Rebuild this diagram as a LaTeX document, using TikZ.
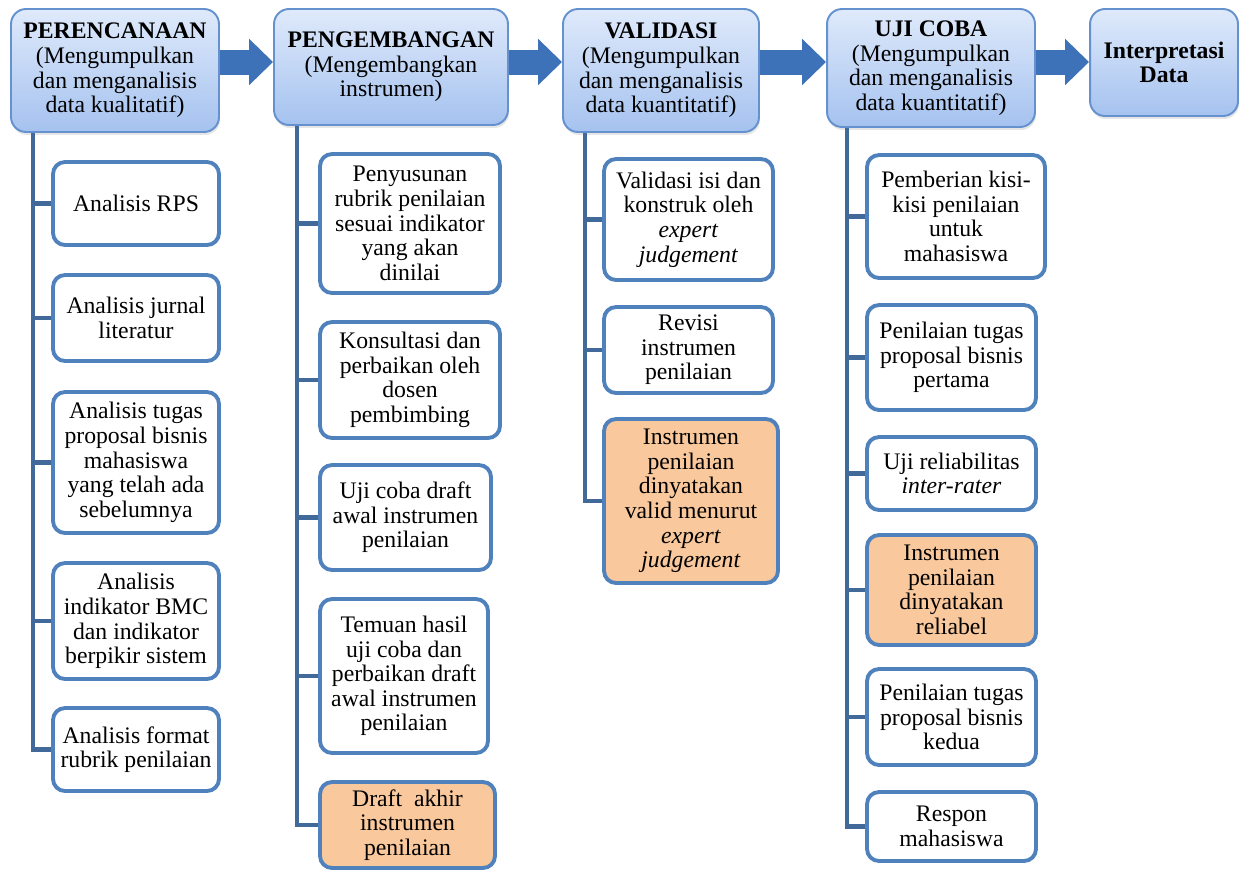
\documentclass[tikz,border=0pt]{standalone}
\usepackage{fontspec}
\setmainfont{Liberation Serif}
\usepackage{tikz}
\usetikzlibrary{arrows.meta, positioning, shadows}

\definecolor{headtop}{HTML}{DFEAFB}
\definecolor{headbot}{HTML}{A5C2EF}
\definecolor{headline}{HTML}{6691CF}
\definecolor{boxline}{HTML}{4F81BD}
\definecolor{trunkcol}{HTML}{41699A}
\definecolor{flowcol}{HTML}{3D72B8}
\definecolor{resfill}{HTML}{F9C89C}

\begin{document}
\begin{tikzpicture}[x=0.02cm, y=-0.02cm,
        head/.style = {draw=headline, line width=1.1pt, rounded corners=0.3cm,
            top color=headtop, bottom color=headbot, align=center,
            font=\fontsize{13.5}{14}\selectfont,
            drop shadow={opacity=0.2, shadow xshift=0.02cm, shadow yshift=-0.06cm}},
        item/.style = {draw=boxline, line width=2.2pt, rounded corners=0.24cm,
            fill=white, align=center, inner sep=2pt,
            font=\fontsize{13.5}{14}\selectfont},
        result/.style = {item, fill=resfill},
        flow/.style = {flowcol, line width=0.5cm, -{Triangle[length=0.48cm, width=0.9cm]}},
        trunk/.style = {trunkcol, line width=2.8pt}]
    \useasboundingbox (0,0) rectangle (1246,873);
    % tahapan
    \node[head, minimum width=4.16cm, minimum height=2.46cm] (h1) at (115,70.5)
        {\textbf{PERENCANAAN}\\(Mengumpulkan\\dan menganalisis\\data kualitatif)};
    \node[head, minimum width=4.68cm, minimum height=2.32cm] (h2) at (391,67)
        {\textbf{PENGEMBANGAN}\\(Mengembangkan\\instrumen)};
    \node[head, minimum width=3.92cm, minimum height=2.46cm] (h3) at (661,70.5)
        {\textbf{VALIDASI}\\(Mengumpulkan\\dan menganalisis\\data kuantitatif)};
    \node[head, minimum width=4.16cm, minimum height=2.36cm] (h4) at (931,68)
        {\textbf{UJI COBA}\\(Mengumpulkan\\dan menganalisis\\data kuantitatif)};
    \node[head, minimum width=2.96cm, minimum height=2.14cm] (h5) at (1164,62.5)
        {\textbf{Interpretasi}\\\textbf{Data}};
    \coordinate (ay) at (0,62);
    \draw[flow] (h1.east |- ay) -- (h2.west |- ay);
    \draw[flow] (h2.east |- ay) -- (h3.west |- ay);
    \draw[flow] (h3.east |- ay) -- (h4.west |- ay);
    \draw[flow] (h4.east |- ay) -- (h5.west |- ay);

    % perencanaan
    \node[item, minimum width=3.32cm, minimum height=1.66cm] (c11) at (136,203.5) {Analisis RPS};
    \node[item, minimum width=3.32cm, minimum height=1.72cm] (c12) at (136,318) {Analisis jurnal\\literatur};
    \node[item, minimum width=3.32cm, minimum height=2.82cm] (c13) at (136,462.5)
        {Analisis tugas\\proposal bisnis\\mahasiswa\\yang telah ada\\sebelumnya};
    \node[item, minimum width=3.32cm, minimum height=2.32cm] (c14) at (136,621)
        {Analisis\\indikator BMC\\dan indikator\\berpikir sistem};
    \node[item, minimum width=3.32cm, minimum height=1.66cm] (c15) at (136,749.5) {Analisis format\\rubrik penilaian};
    \coordinate (t1) at (33,0);
    \draw[trunk] (h1.south -| t1) |- (c15);
    \draw[trunk] (c11 -| t1) -- (c11);
    \draw[trunk] (c12 -| t1) -- (c12);
    \draw[trunk] (c13 -| t1) -- (c13);
    \draw[trunk] (c14 -| t1) -- (c14);

    % pengembangan
    \node[item, minimum width=3.60cm, minimum height=2.78cm] (c21) at (410,223.5)
        {Penyusunan\\rubrik penilaian\\sesuai indikator\\yang akan\\dinilai};
    \node[item, minimum width=3.60cm, minimum height=2.32cm] (c22) at (410,380)
        {Konsultasi dan\\perbaikan oleh\\dosen\\pembimbing};
    \node[item, minimum width=3.42cm, minimum height=2.10cm] (c23) at (405.5,517.5)
        {Uji coba draft\\awal instrumen\\penilaian};
    \node[item, minimum width=3.36cm, minimum height=3.08cm] (c24) at (404,676)
        {Temuan hasil\\uji coba dan\\perbaikan draft\\awal instrumen\\penilaian};
    \node[result, minimum width=3.50cm, minimum height=1.72cm] (c25) at (407.5,825)
        {Draft~~akhir\\instrumen\\penilaian};
    \coordinate (t2) at (297,0);
    \draw[trunk] (h2.south -| t2) |- (c25);
    \draw[trunk] (c21 -| t2) -- (c21);
    \draw[trunk] (c22 -| t2) -- (c22);
    \draw[trunk] (c23 -| t2) -- (c23);
    \draw[trunk] (c24 -| t2) -- (c24);

    % validasi
    \node[item, minimum width=3.38cm, minimum height=2.42cm] (c31) at (688.5,219.5)
        {Validasi isi dan\\konstruk oleh\\\textit{expert}\\\textit{judgement}};
    \node[item, minimum width=3.38cm, minimum height=1.72cm] (c32) at (688.5,350)
        {Revisi\\instrumen\\penilaian};
    \node[result, minimum width=3.48cm, minimum height=3.28cm] (c33) at (691,501)
        {Instrumen\\penilaian\\dinyatakan\\valid menurut\\\textit{expert}\\\textit{judgement}};
    \coordinate (t3) at (585,0);
    \draw[trunk] (h3.south -| t3) |- (c33);
    \draw[trunk] (c31 -| t3) -- (c31);
    \draw[trunk] (c32 -| t3) -- (c32);

    % uji coba
    \node[item, minimum width=3.56cm, minimum height=2.46cm] (c41) at (956,216.5)
        {Pemberian kisi-\\kisi penilaian\\untuk\\mahasiswa};
    \node[item, minimum width=3.38cm, minimum height=2.10cm] (c42) at (951.5,357.5)
        {Penilaian tugas\\proposal bisnis\\pertama};
    \node[item, minimum width=3.38cm, minimum height=1.46cm] (c43) at (951.5,473.5)
        {Uji reliabilitas\\\textit{inter-rater}};
    \node[result, minimum width=3.38cm, minimum height=2.20cm] (c44) at (951.5,590)
        {Instrumen\\penilaian\\dinyatakan\\reliabel};
    \node[item, minimum width=3.38cm, minimum height=1.92cm] (c45) at (951.5,717)
        {Penilaian tugas\\proposal bisnis\\kedua};
    \node[item, minimum width=3.38cm, minimum height=1.38cm] (c46) at (951.5,826.5)
        {Respon\\mahasiswa};
    \coordinate (t4) at (847,0);
    \draw[trunk] (h4.south -| t4) |- (c46);
    \draw[trunk] (c41 -| t4) -- (c41);
    \draw[trunk] (c42 -| t4) -- (c42);
    \draw[trunk] (c43 -| t4) -- (c43);
    \draw[trunk] (c44 -| t4) -- (c44);
    \draw[trunk] (c45 -| t4) -- (c45);
\end{tikzpicture}
\end{document}
